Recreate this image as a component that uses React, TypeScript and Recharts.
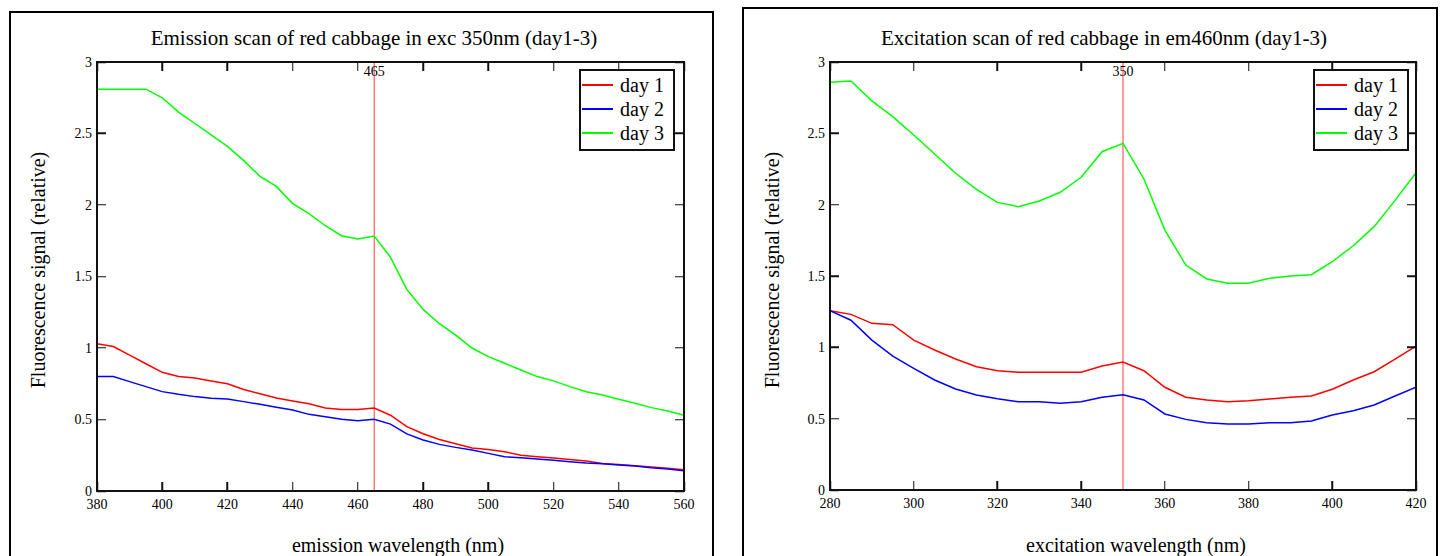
import React from "react";
import { LineChart, Line, XAxis, YAxis, ReferenceLine, Legend } from "recharts";

const serif = '"Liberation Serif", "Times New Roman", serif';

// emission scan, excitation fixed at 350 nm
const emissionNm = [
  380, 385, 390, 395, 400, 405, 410, 415, 420, 425, 430, 435, 440, 445, 450, 455, 460, 465, 470,
  475, 480, 485, 490, 495, 500, 505, 510, 515, 520, 525, 530, 535, 540, 545, 550, 555, 560,
];
const emDay1 = [
  1.03, 1.01, 0.95, 0.89, 0.83, 0.8, 0.79, 0.77, 0.75, 0.71, 0.68, 0.65, 0.63, 0.61, 0.58, 0.57, 0.57,
  0.58, 0.53, 0.45, 0.4, 0.36, 0.33, 0.3, 0.29, 0.275, 0.25, 0.24, 0.23, 0.22, 0.21, 0.193, 0.186,
  0.177, 0.168, 0.159, 0.149,
];
const emDay2 = [
  0.8, 0.8, 0.765, 0.73, 0.695, 0.676, 0.66, 0.648, 0.643, 0.625, 0.606, 0.585, 0.566, 0.536, 0.52,
  0.501, 0.492, 0.501, 0.468, 0.399, 0.357, 0.326, 0.305, 0.287, 0.263, 0.24, 0.233, 0.224, 0.215,
  0.205, 0.196, 0.191, 0.182, 0.175, 0.163, 0.154, 0.142,
];
const emDay3 = [
  2.81, 2.81, 2.81, 2.81, 2.75, 2.65, 2.57, 2.49, 2.41, 2.31, 2.2, 2.13, 2.01, 1.94, 1.855, 1.785,
  1.762, 1.783, 1.634, 1.41, 1.27, 1.17, 1.09, 1.0, 0.94, 0.893, 0.846, 0.8, 0.77, 0.73, 0.694, 0.671,
  0.641, 0.613, 0.583, 0.56, 0.53,
];

// excitation scan, emission fixed at 460 nm
const excitationNm = [
  280, 285, 290, 295, 300, 305, 310, 315, 320, 325, 330, 335, 340, 345, 350, 355, 360, 365, 370, 375,
  380, 385, 390, 395, 400, 405, 410, 415, 420,
];
const exDay1 = [
  1.257, 1.231, 1.168, 1.159, 1.051, 0.981, 0.918, 0.864, 0.836, 0.825, 0.825, 0.825, 0.825, 0.869,
  0.897, 0.836, 0.72, 0.65, 0.631, 0.619, 0.626, 0.638, 0.65, 0.659, 0.706, 0.771, 0.829, 0.918, 1.009,
];
const exDay2 = [
  1.257, 1.19, 1.051, 0.939, 0.853, 0.771, 0.708, 0.666, 0.64, 0.619, 0.619, 0.608, 0.619, 0.65, 0.668,
  0.631, 0.533, 0.495, 0.472, 0.463, 0.463, 0.472, 0.472, 0.484, 0.526, 0.556, 0.596, 0.659, 0.72,
];
const exDay3 = [
  2.858, 2.867, 2.727, 2.617, 2.488, 2.355, 2.22, 2.107, 2.016, 1.986, 2.026, 2.087, 2.192, 2.371, 2.43,
  2.18, 1.822, 1.577, 1.479, 1.449, 1.449, 1.484, 1.5, 1.509, 1.6, 1.712, 1.846, 2.03, 2.224,
];

const emTicks = [380, 400, 420, 440, 460, 480, 500, 520, 540, 560];
const exTicks = [280, 300, 320, 340, 360, 380, 400, 420];
const yTicks = [0, 0.5, 1, 1.5, 2, 2.5, 3];
const yDomain: [number, number] = [0, 3];

const seriesNames = ["day 1", "day 2", "day 3"];
const seriesColors = ["#ff0000", "#0000ff", "#00ff00"];

const CHART_H = 556;
const X_AXIS_H = 30;
const Y_AXIS_W = 40;
const TICK = 9;
const INK = "#111";

const toRows = (xs: number[], a: number[], b: number[], c: number[]) =>
  xs.map((nm, i) => ({ nm, d1: a[i], d2: b[i], d3: c[i] }));

type Box = { left: number; top: number; right: number; bottom: number };

const LegendBox = ({ payload }: any) => (
  <div
    style={{
      border: `2px solid ${INK}`,
      background: "#fff",
      padding: "2px 4px 4px 1px",
      fontFamily: serif,
      fontSize: 20,
      color: "#000",
      boxSizing: "border-box",
    }}
  >
    {(payload || []).map((p: any) => (
      <div key={p.value} style={{ display: "flex", alignItems: "center", height: 24 }}>
        <span style={{ width: 31, height: 2, background: p.color, marginRight: 7 }} />
        <span style={{ lineHeight: "24px" }}>{p.value}</span>
      </div>
    ))}
  </div>
);

// closed plot frame with tick marks pointing inward on all four sides
function PlotFrame({ x, box, domain, ticks }: { x: number; box: Box; domain: [number, number]; ticks: number[] }) {
  const [x0, x1] = domain;
  const [y0, y1] = yDomain;
  const mark: React.CSSProperties = { position: "absolute", background: INK };
  return (
    <div
      style={{
        position: "absolute",
        left: x + box.left,
        top: box.top,
        width: box.right - box.left,
        height: box.bottom - box.top,
        outline: `2px solid ${INK}`,
        outlineOffset: -1,
        pointerEvents: "none",
      }}
    >
      {ticks.map((t) => {
        const pct = `${((t - x0) / (x1 - x0)) * 100}%`;
        return (
          <React.Fragment key={`x${t}`}>
            <div style={{ ...mark, left: pct, top: 0, width: 1.5, height: TICK, transform: "translateX(-50%)" }} />
            <div style={{ ...mark, left: pct, bottom: 0, width: 1.5, height: TICK, transform: "translateX(-50%)" }} />
          </React.Fragment>
        );
      })}
      {yTicks.map((v) => {
        const pct = `${((y1 - v) / (y1 - y0)) * 100}%`;
        return (
          <React.Fragment key={`y${v}`}>
            <div style={{ ...mark, top: pct, left: 0, height: 1.5, width: TICK, transform: "translateY(-50%)" }} />
            <div style={{ ...mark, top: pct, right: 0, height: 1.5, width: TICK, transform: "translateY(-50%)" }} />
          </React.Fragment>
        );
      })}
    </div>
  );
}

type PanelProps = {
  x: number;
  width: number;
  box: Box;
  rows: any[];
  domain: [number, number];
  ticks: number[];
  marker: number;
  legendLeft: number;
};

function Panel({ x, width, box, rows, domain, ticks, marker, legendLeft }: PanelProps) {
  const tickText = { fill: "#000", fontSize: 14, fontFamily: serif };
  const margin = {
    top: box.top,
    right: width - box.right,
    bottom: CHART_H - box.bottom - X_AXIS_H,
    left: box.left - Y_AXIS_W,
  };
  return (
    <>
      <div style={{ position: "absolute", left: x, top: 0 }}>
        <LineChart width={width} height={CHART_H} data={rows} margin={margin}>
          <XAxis
            dataKey="nm"
            type="number"
            domain={domain}
            ticks={ticks}
            allowDataOverflow
            interval={0}
            height={X_AXIS_H}
            tickSize={0}
            tickMargin={8}
            axisLine={{ stroke: INK, strokeWidth: 2 }}
            tickLine={false}
            tick={tickText}
          />
          <YAxis
            type="number"
            domain={yDomain}
            ticks={yTicks}
            interval={0}
            width={Y_AXIS_W}
            tickSize={0}
            tickMargin={5}
            axisLine={{ stroke: INK, strokeWidth: 2 }}
            tickLine={false}
            tick={tickText}
          />
          <ReferenceLine
            x={marker}
            stroke="#ff3b3b"
            strokeWidth={1}
            label={{ value: String(marker), position: "insideTop", offset: 4, fill: "#000", fontSize: 14, fontFamily: serif }}
          />
          {["d1", "d2", "d3"].map((key, i) => (
            <Line
              key={key}
              type="linear"
              dataKey={key}
              name={seriesNames[i]}
              stroke={seriesColors[i]}
              strokeWidth={1.5}
              dot={false}
              isAnimationActive={false}
            />
          ))}
          {/* middle/center alignment keeps the legend from reserving plot space */}
          <Legend
            layout="horizontal"
            verticalAlign="middle"
            align="center"
            content={<LegendBox />}
            wrapperStyle={{ position: "absolute", left: legendLeft, top: 69, width: 96 }}
          />
        </LineChart>
      </div>
      <PlotFrame x={x} box={box} domain={domain} ticks={ticks} />
    </>
  );
}

const textStyle: React.CSSProperties = {
  position: "absolute",
  fontFamily: serif,
  color: "#000",
  whiteSpace: "nowrap",
  lineHeight: 1,
};

function Caption({ x, y, size, text, rotate }: { x: number; y: number; size: number; text: string; rotate?: boolean }) {
  return (
    <div
      style={{
        ...textStyle,
        left: x,
        top: y,
        fontSize: size,
        transform: `translate(-50%, -50%)${rotate ? " rotate(-90deg)" : ""}`,
      }}
    >
      {text}
    </div>
  );
}

export default function App() {
  const emRows = toRows(emissionNm, emDay1, emDay2, emDay3);
  const exRows = toRows(excitationNm, exDay1, exDay2, exDay3);
  return (
    <div style={{ position: "absolute", left: 0, top: 0, width: 1442, height: 556, overflow: "hidden", background: "#fff" }}>
      <div style={{ position: "absolute", left: 9, top: 11, width: 705, height: 620, border: "2px solid #000", boxSizing: "border-box" }} />
      <div style={{ position: "absolute", left: 742, top: 7, width: 696, height: 620, border: "2px solid #000", boxSizing: "border-box" }} />

      <Panel
        x={0}
        width={720}
        box={{ left: 97, top: 62, right: 684, bottom: 491 }}
        rows={emRows}
        domain={[380, 560]}
        ticks={emTicks}
        marker={465}
        legendLeft={579}
      />
      <Panel
        x={720}
        width={722}
        box={{ left: 110, top: 62, right: 696, bottom: 490 }}
        rows={exRows}
        domain={[280, 420]}
        ticks={exTicks}
        marker={350}
        legendLeft={593}
      />

      <Caption x={374} y={38} size={21} text="Emission scan of red cabbage in exc 350nm (day1-3)" />
      <Caption x={398} y={545} size={20} text="emission wavelength (nm)" />
      <Caption x={38} y={270} size={20} text="Fluorescence signal (relative)" rotate />

      <Caption x={1104} y={38} size={21} text="Excitation scan of red cabbage in em460nm (day1-3)" />
      <Caption x={1136} y={545} size={20} text="excitation wavelength (nm)" />
      <Caption x={772} y={270} size={20} text="Fluorescence signal (relative)" rotate />
    </div>
  );
}
